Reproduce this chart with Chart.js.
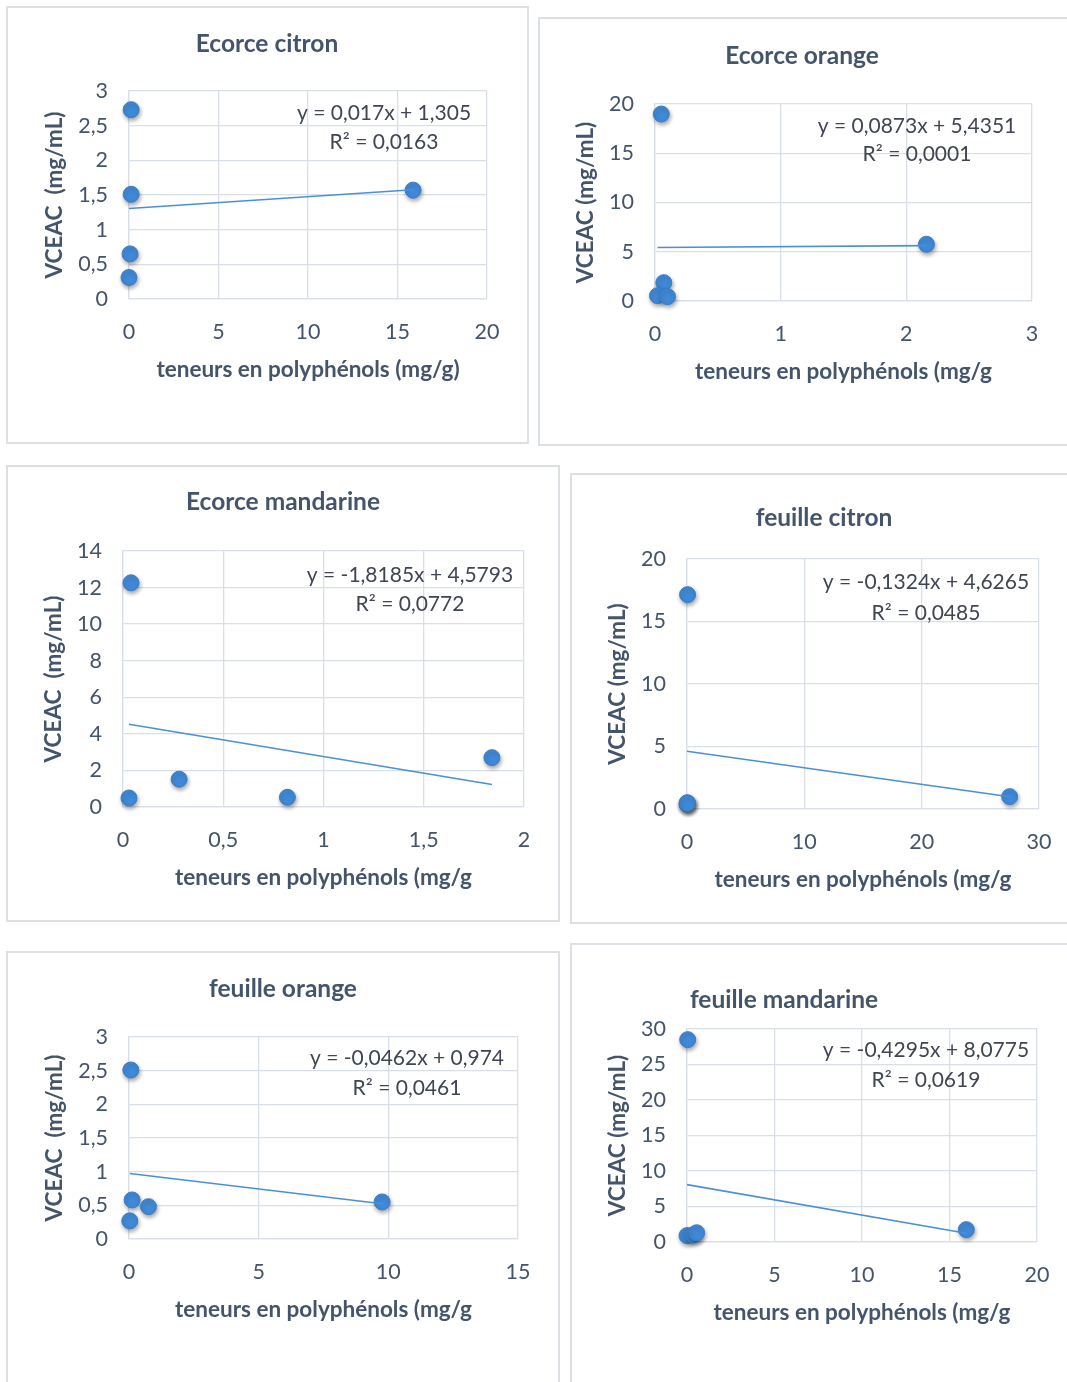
<!DOCTYPE html>
<html>
<head>
<meta charset="utf-8">
<script src="https://cdn.jsdelivr.net/npm/chart.js@4/dist/chart.umd.min.js"></script>
<style>
  html, body { margin: 0; padding: 0; background: #ffffff; }
  #root { position: relative; width: 1067px; height: 1382px; overflow: hidden; background: #fff; }
  .panel { position: absolute; box-sizing: border-box; border: 2px solid #DCDFE4; background: #fff; }
  canvas { position: absolute; }
</style>
</head>
<body>
<div id="root"></div>
<script>
// ---------------- DATA ----------------
const chartTitles = ["Ecorce citron", "Ecorce orange", "Ecorce mandarine", "feuille citron", "feuille orange", "feuille mandarine"];
const yAxisTitles = ["VCEAC  (mg/mL)", "VCEAC (mg/mL)", "VCEAC  (mg/mL)", "VCEAC (mg/mL)", "VCEAC  (mg/mL)", "VCEAC (mg/mL)"];
const xAxisTitles = ["teneurs en polyphénols (mg/g)", "teneurs en polyphénols (mg/g", "teneurs en polyphénols (mg/g",
                     "teneurs en polyphénols (mg/g", "teneurs en polyphénols (mg/g", "teneurs en polyphénols (mg/g"];

const ecorceCitronX     = [0.12, 0.12, 0.06, 0.00, 15.87];
const ecorceCitronY     = [2.73, 1.51, 0.65, 0.31, 1.57];
const ecorceOrangeX     = [0.05, 0.07, 0.02, 0.10, 2.16];
const ecorceOrangeY     = [18.98, 1.86, 0.54, 0.44, 5.76];
const ecorceMandarineX  = [0.04, 0.03, 0.28, 0.82, 1.84];
const ecorceMandarineY  = [12.26, 0.49, 1.52, 0.53, 2.70];
const feuilleCitronX    = [0.05, 0.02, 0.00, 0.04, 27.5];
const feuilleCitronY    = [17.15, 0.50, 0.40, 0.45, 0.99];
const feuilleOrangeX    = [0.07, 0.12, 0.75, 0.03, 9.76];
const feuilleOrangeY    = [2.51, 0.58, 0.48, 0.27, 0.55];
const feuilleMandarineX = [0.04, 0.00, 0.35, 0.55, 15.96];
const feuilleMandarineY = [28.5, 0.90, 1.00, 1.30, 1.74];

const seriesX = [ecorceCitronX, ecorceOrangeX, ecorceMandarineX, feuilleCitronX, feuilleOrangeX, feuilleMandarineX];
const seriesY = [ecorceCitronY, ecorceOrangeY, ecorceMandarineY, feuilleCitronY, feuilleOrangeY, feuilleMandarineY];

const trendSlopes     = [0.017, 0.0873, -1.8185, -0.1324, -0.0462, -0.4295];
const trendIntercepts = [1.305, 5.4351, 4.5793, 4.6265, 0.974, 8.0775];
const equationLines = [
  ["y = 0,017x + 1,305", "R² = 0,0163"],
  ["y = 0,0873x + 5,4351", "R² = 0,0001"],
  ["y = -1,8185x + 4,5793", "R² = 0,0772"],
  ["y = -0,1324x + 4,6265", "R² = 0,0485"],
  ["y = -0,0462x + 0,974", "R² = 0,0461"],
  ["y = -0,4295x + 8,0775", "R² = 0,0619"]
];

const xTicks = [[0, 5, 10, 15, 20], [0, 1, 2, 3], [0, 0.5, 1, 1.5, 2], [0, 10, 20, 30], [0, 5, 10, 15], [0, 5, 10, 15, 20]];
const yTicks = [[0, 0.5, 1, 1.5, 2, 2.5, 3], [0, 5, 10, 15, 20], [0, 2, 4, 6, 8, 10, 12, 14],
                [0, 5, 10, 15, 20], [0, 0.5, 1, 1.5, 2, 2.5, 3], [0, 5, 10, 15, 20, 25, 30]];

// ---------------- LAYOUT (absolute page pixels) ----------------
const panels = [
  { x: 6,   y: 6,   w: 523, h: 438, area: { l: 129, t: 91,   r: 487,  b: 299 },  title: { x: 267, y: 44 },   eq: { dx: -103, dy1: 22, dy2: 51 } },
  { x: 538, y: 17,  w: 536, h: 429, area: { l: 655, t: 104,  r: 1032, b: 301 },  title: { x: 802, y: 56 },   eq: { dx: -115, dy1: 22, dy2: 50 } },
  { x: 6,   y: 465, w: 554, h: 457, area: { l: 123, t: 551,  r: 524,  b: 807 },  title: { x: 283, y: 502 },  eq: { dx: -114, dy1: 24, dy2: 53 } },
  { x: 570, y: 473, w: 505, h: 451, area: { l: 687, t: 559,  r: 1039, b: 809 },  title: { x: 824, y: 518 },  eq: { dx: -113, dy1: 23, dy2: 54 } },
  { x: 6,   y: 951, w: 554, h: 440, area: { l: 129, t: 1037, r: 518,  b: 1239 }, title: { x: 283, y: 989 },  eq: { dx: -111, dy1: 21, dy2: 51 } },
  { x: 570, y: 943, w: 505, h: 450, area: { l: 687, t: 1029, r: 1037, b: 1242 }, title: { x: 784, y: 1000 }, eq: { dx: -111, dy1: 21, dy2: 51 } }
];

const FONT = "Lato, 'Open Sans', sans-serif";
const TITLE_COLOR = "#44546A";
const TICK_COLOR = "#44546A";
const EQ_COLOR = "#3F4652";
const GRID_COLOR = "#D9DFE8";
const MARKER_FILL = "#4189D6";
const MARKER_BORDER = "#3B7DC8";
const TREND_COLOR = "#4A90D9";

const fmt = v => String(v).replace('.', ',');

const shadowPlugin = {
  id: 'markerShadow',
  beforeDatasetDraw(chart, args) {
    if (args.index === 1) {
      const ctx = chart.ctx;
      ctx.save();
      ctx.shadowColor = 'rgba(0,0,0,0.35)';
      ctx.shadowBlur = 4;
      ctx.shadowOffsetX = 1;
      ctx.shadowOffsetY = 2.5;
    }
  },
  afterDatasetDraw(chart, args) {
    if (args.index === 1) chart.ctx.restore();
  }
};

const textPlugin = {
  id: 'panelText',
  afterDraw(chart, args, opts) {
    const ctx = chart.ctx;
    const p = opts.panel;
    ctx.save();
    ctx.textAlign = 'center';
    ctx.textBaseline = 'middle';
    ctx.fillStyle = TITLE_COLOR;
    ctx.font = "bold 24.5px " + FONT;
    ctx.fillText(opts.title, p.title.x - p.x, p.title.y - p.y);
    ctx.fillStyle = EQ_COLOR;
    ctx.font = "21px " + FONT;
    const ca = chart.chartArea;
    ctx.fillText(opts.eq[0], ca.right + p.eq.dx, ca.top + p.eq.dy1);
    ctx.fillText(opts.eq[1], ca.right + p.eq.dx, ca.top + p.eq.dy2);
    ctx.restore();
  }
};

const root = document.getElementById('root');

panels.forEach((p, i) => {
  const div = document.createElement('div');
  div.className = 'panel';
  div.style.left = p.x + 'px';
  div.style.top = p.y + 'px';
  div.style.width = p.w + 'px';
  div.style.height = p.h + 'px';
  root.appendChild(div);

  const cv = document.createElement('canvas');
  cv.width = p.w; cv.height = p.h;
  cv.style.left = p.x + 'px';
  cv.style.top = p.y + 'px';
  cv.style.width = p.w + 'px';
  cv.style.height = p.h + 'px';
  root.appendChild(cv);

  const xs = seriesX[i], ys = seriesY[i];
  const points = xs.map((x, k) => ({ x: x, y: ys[k] }));
  const xMin = Math.min(...xs), xMax = Math.max(...xs);
  const trend = [xMin, xMax].map(x => ({ x: x, y: trendSlopes[i] * x + trendIntercepts[i] }));
  const xt = xTicks[i], yt = yTicks[i];

  const target = { l: p.area.l - p.x, t: p.area.t - p.y, r: p.area.r - p.x, b: p.area.b - p.y };
  let pad = { left: 0, top: target.t, right: p.w - target.r, bottom: 0 };

  const chart = new Chart(cv, {
    type: 'scatter',
    data: {
      datasets: [
        { type: 'line', data: trend, borderColor: TREND_COLOR, borderWidth: 1.6, pointRadius: 0, fill: false, clip: false, showLine: true },
        { data: points, backgroundColor: MARKER_FILL, borderColor: MARKER_BORDER, borderWidth: 1, pointRadius: 8, pointHoverRadius: 8, clip: false }
      ]
    },
    options: {
      responsive: false,
      animation: false,
      devicePixelRatio: 1,
      layout: { padding: pad },
      plugins: {
        legend: { display: false },
        title: { display: false },
        tooltip: { enabled: false },
        panelText: { panel: p, title: chartTitles[i], eq: equationLines[i] }
      },
      scales: {
        x: {
          type: 'linear',
          min: xt[0], max: xt[xt.length - 1],
          afterBuildTicks: s => { s.ticks = xt.map(v => ({ value: v })); },
          ticks: { callback: fmt, color: TICK_COLOR, font: { family: FONT, size: 21.5 }, padding: 20, maxRotation: 0, autoSkip: false },
          grid: { color: GRID_COLOR, lineWidth: 1.3, drawTicks: false },
          border: { color: GRID_COLOR, width: 1.3 },
          title: { display: true, text: xAxisTitles[i], color: TITLE_COLOR, font: { family: FONT, size: 22.5, weight: 'bold' }, padding: { top: -9, bottom: 0 } }
        },
        y: {
          type: 'linear',
          min: yt[0], max: yt[yt.length - 1],
          afterBuildTicks: s => { s.ticks = yt.map(v => ({ value: v })); },
          ticks: { callback: fmt, color: TICK_COLOR, font: { family: FONT, size: 21.5 }, padding: 21, autoSkip: false },
          grid: { color: GRID_COLOR, lineWidth: 1.3, drawTicks: false },
          border: { color: GRID_COLOR, width: 1.3 },
          title: { display: true, text: yAxisTitles[i], color: TITLE_COLOR, font: { family: FONT, size: 22.5, weight: 'bold' }, padding: { top: 0, bottom: -11 } }
        }
      }
    },
    plugins: [shadowPlugin, textPlugin]
  });

  // Fit the plot area onto the reference position (layout only)
  for (let it = 0; it < 4; it++) {
    const ca = chart.chartArea;
    pad = {
      left: pad.left + (target.l - ca.left),
      top: pad.top + (target.t - ca.top),
      right: pad.right + (ca.right - target.r),
      bottom: pad.bottom + (ca.bottom - target.b)
    };
    chart.options.layout.padding = pad;
    chart.update('none');
  }
});
</script>
</body>
</html>
